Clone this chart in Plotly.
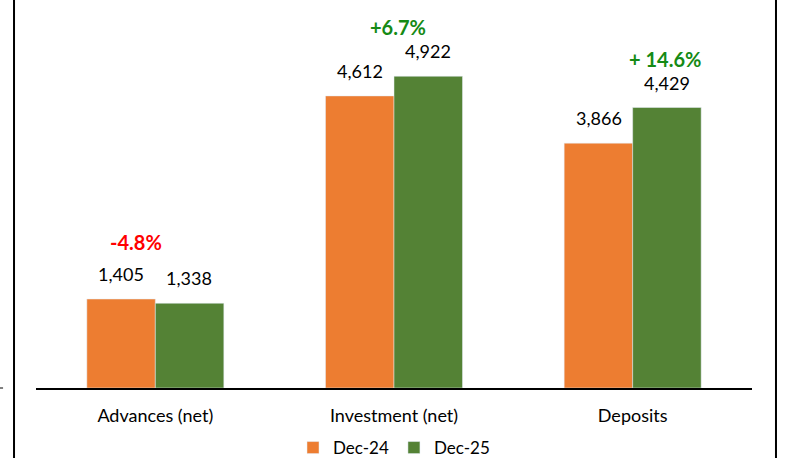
import plotly.graph_objects as go

categories = ["Advances (net)", "Investment (net)", "Deposits"]
dec24 = [1405, 4612, 3866]
dec25 = [1338, 4922, 4429]
changes = ["-4.8%", "+6.7%", "+ 14.6%"]
change_colors = ["#FF0000", "#158A15", "#158A15"]
change_xshift = [-19, 4, 32]
change_yshift = [43, 35, 35]

FONT = "Lato"

fig = go.Figure()
fig.add_trace(go.Bar(x=categories, y=dec24, name="Dec-24", marker_color="#ED7D31"))
fig.add_trace(go.Bar(x=categories, y=dec25, name="Dec-25", marker_color="#548235"))

for i, cat in enumerate(categories):
    for val, dx in ((dec24[i], -34), (dec25[i], 34)):
        fig.add_annotation(x=cat, y=val, text=f"{val:,}", showarrow=False,
                           xshift=dx, yshift=12, yanchor="bottom",
                           font=dict(family=FONT, size=18, color="#000000"))
    fig.add_annotation(x=cat, y=max(dec24[i], dec25[i]), text=f"<b>{changes[i]}</b>",
                       showarrow=False, xshift=change_xshift[i], yshift=change_yshift[i],
                       yanchor="bottom",
                       font=dict(family=FONT, size=20, color=change_colors[i]))

# frame lines on the left and right, and the small tick at far left
for xp in (-0.0307, 1.0335):
    fig.add_shape(type="line", xref="paper", yref="paper", x0=xp, x1=xp,
                  y0=-0.21, y1=1.03, line=dict(color="#000000", width=2))
fig.add_shape(type="line", xref="paper", yref="paper", x0=-0.0503, x1=-0.046,
              y0=0, y1=0, line=dict(color="#000000", width=1))

# figure is a little taller than the window; the extra strip at the bottom is cut off
fig.update_layout(
    width=795, height=466,
    margin=dict(l=36, r=43, t=8, b=78),
    paper_bgcolor="white", plot_bgcolor="white",
    barmode="group", bargap=0.426, bargroupgap=0,
    font=dict(family=FONT, size=18, color="#000000"),
    showlegend=True,
    legend=dict(orientation="h", x=0.5, xanchor="center",
                yref="container", y=0, yanchor="bottom",
                font=dict(family=FONT, size=17), itemwidth=30, traceorder="normal"),
)
fig.update_xaxes(showline=True, linecolor="#000000", linewidth=2, ticks="",
                 ticklabelstandoff=10, automargin=False,
                 tickfont=dict(family=FONT, size=18))
fig.update_yaxes(range=[0, 6000], visible=False, showgrid=False, automargin=False)

fig.write_html("out.html", config={"displayModeBar": False},
               post_script="document.body.style.margin='0';"
                           "document.body.style.overflow='hidden';")
